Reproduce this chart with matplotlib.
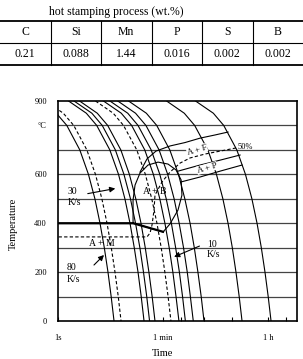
import matplotlib
matplotlib.use("Agg")
import matplotlib.pyplot as plt
from matplotlib.lines import Line2D

plt.rcParams['font.family'] = ['Liberation Serif', 'DejaVu Serif']

# ---------------- table data ----------------
table_title = "hot stamping process (wt.%)"
elements = ["C", "Si", "Mn", "P", "S", "B"]
contents = ["0.21", "0.088", "1.44", "0.016", "0.002", "0.002"]

# ---------------- CCT diagram data ----------------
# temperatures (°C) at which the cooling curves were read
cool_temps = [900, 850, 800, 700, 600, 500, 400, 300, 200, 100, 0]
# times (s) of each cooling curve at those temperatures
t_80ks = [0.468, 0.937, 1.41, 2.34, 3.28, 4.22, 5.15, 6.09, 7.03, 7.96, 8.9]
t_crit = [0.616, 1.23, 1.85, 3.08, 4.31, 5.54, 6.77, 8.0, 9.24, 10.5, 11.7]
t_30ks = [1.51, 3.02, 4.53, 7.55, 10.6, 13.6, 16.6, 19.6, 22.7, 25.7, 28.7]
t_c3 = [1.87, 3.75, 5.62, 9.37, 13.1, 16.9, 20.6, 24.4, 28.1, 31.9, 35.6]
t_c4 = [2.32, 4.63, 6.95, 11.6, 16.2, 20.8, 25.5, 30.1, 34.7, 39.4, 44.0]
t_dash2 = [4.32, 8.63, 12.9, 21.6, 30.2, 38.8, 47.5, 56.1, 64.7, 73.4, 82.0]
t_10ks = [5.89, 11.8, 17.7, 29.5, 41.3, 53.1, 64.8, 76.6, 88.4, 100, 112]
t_c6 = [7.58, 15.2, 22.7, 37.9, 53.1, 68.2, 83.4, 98.5, 114, 129, 144]
t_c7 = [10.3, 20.6, 30.9, 51.6, 72.2, 92.8, 113, 134, 155, 175, 196]
t_c8 = [15.7, 31.4, 47.1, 78.4, 110, 141, 173, 204, 235, 267, 298]
t_c9 = [69.2, 138, 207, 346, 484, 622, 761, 899, 1037, 1176, 1314]
t_c10 = [214, 429, 643, 1072, 1501, 1930, 2359, 2788, 3217, 3646, 4075]

# Ms line
ms_time = [1, 18.7, 60.2]
ms_temp = [400, 400, 365]
# bainite region outline
bain_time = [18.7, 18.7, 20.2, 24.5, 33.5, 49.5, 73.2, 100, 122, 126, 108, 79, 60.2, 18.7]
bain_temp = [401, 495, 556, 605, 638, 650, 642, 618, 577, 515, 454, 397, 364, 401]
# ferrite start
fer_time = [24.5, 32.2, 45.7, 79, 142, 255, 458, 761]
fer_temp = [609, 663, 695, 716, 730, 748, 761, 773]
# 50 % transformation line
half_time = [1040, 677, 310, 173, 117, 79, 57.9, 44, 42.4, 39.2, 36.3, 32.2, 1]
half_temp = [708, 699, 683, 667, 646, 609, 569, 515, 454, 393, 360, 344, 344]
# pearlite lines
pea1_time = [108, 255, 557, 1216]
pea1_temp = [613, 638, 658, 679]
pea2_time = [122, 255, 557, 1314]
pea2_temp = [569, 589, 613, 638]

time_ticks = [1, 60, 3600]
time_labels = ["1s", "1 min", "1 h"]
time_minor = [120, 300, 900, 7200]
temp_ticks = [0, 200, 400, 600, 800, 900]
temp_labels = ["0", "200", "400", "600", "\u00b0C", "900"]

W, H = 303, 359
fig = plt.figure(figsize=(W / 100, H / 100), dpi=100)


def px(x, y):
    return x / W, 1 - y / H


# ---------------- table ----------------
fig.text(*px(116, 12), table_title, ha='center', va='center', fontsize=8.5)
for y, lw in [(21, 1.3), (43, 0.8), (65, 1.3)]:
    fig.add_artist(Line2D([0, 1], [px(0, y)[1]] * 2, color='black', lw=lw))
col_w = W / len(elements)
for i in range(1, len(elements)):
    xf = px(col_w * i, 0)[0]
    fig.add_artist(Line2D([xf, xf], [px(0, 21)[1], px(0, 65)[1]],
                          color='black', lw=0.8))
for i, (el, val) in enumerate(zip(elements, contents)):
    cx = col_w * (i + 0.5)
    fig.text(*px(cx, 32), el, ha='center', va='center', fontsize=8.5)
    fig.text(*px(cx, 54), val, ha='center', va='center', fontsize=8.5)

# ---------------- diagram ----------------
ax = fig.add_axes([58 / W, 38 / H, 239 / W, 220 / H])
ax.set_xscale('log')
ax.set_xlim(1, 11220)
ax.set_ylim(0, 900)

for T in range(100, 900, 100):
    ax.axhline(T, color='#444444', lw=0.9, zorder=1)

solid = [t_80ks, t_30ks, t_c3, t_c4, t_10ks, t_c6, t_c7, t_c8, t_c9, t_c10]
dashed = [t_crit, t_dash2]
for ts in solid:
    ax.plot(ts, cool_temps, color='black', lw=0.8, zorder=3)
for ts in dashed:
    ax.plot(ts, cool_temps, color='black', lw=0.8, ls=(0, (3, 2)), zorder=3)

ax.plot(ms_time, ms_temp, color='black', lw=1.6, zorder=3)
ax.plot(bain_time, bain_temp, color='black', lw=0.8, zorder=3)
ax.plot(fer_time, fer_temp, color='black', lw=0.8, zorder=3)
ax.plot(half_time, half_temp, color='black', lw=0.8, ls=(0, (3, 2)), zorder=3)
ax.plot(pea1_time, pea1_temp, color='black', lw=0.8, zorder=3)
ax.plot(pea2_time, pea2_temp, color='black', lw=0.8, zorder=3)

fs = 7
box = dict(facecolor='white', edgecolor='none', pad=0.2)
ax.text(44, 528, "A + B", fontsize=fs, ha='center', va='center', zorder=5)
ax.text(227, 700, "A + F", fontsize=6.5, ha='center', va='center',
        rotation=16, bbox=box, zorder=5)
ax.text(335, 626, "A + P", fontsize=6.5, ha='center', va='center',
        rotation=16, bbox=box, zorder=5)
ax.text(5.5, 316, "A + M", fontsize=fs, ha='center', va='center', zorder=5)
ax.text(1500, 712, "50%", fontsize=6, ha='center', va='center', zorder=5)

ax.text(1.45, 528, "30", fontsize=fs, ha='left', va='center')
ax.text(1.45, 483, "K/s", fontsize=fs, ha='left', va='center')
ax.text(1.42, 217, "80", fontsize=fs, ha='left', va='center')
ax.text(1.42, 168, "K/s", fontsize=fs, ha='left', va='center')
ax.text(335, 311, "10", fontsize=fs, ha='left', va='center')
ax.text(335, 274, "K/s", fontsize=fs, ha='left', va='center')

arrow = dict(arrowstyle='-|>', color='black', lw=0.8, mutation_scale=8)
ax.annotate("", xy=(10.4, 544), xytext=(2.87, 519), arrowprops=arrow)
ax.annotate("", xy=(6.5, 278), xytext=(3.77, 221), arrowprops=arrow)
ax.annotate("", xy=(83.9, 258), xytext=(276, 311), arrowprops=arrow)

ax.set_xticks(time_ticks)
ax.set_xticklabels(time_labels)
ax.set_xticks(time_minor, minor=True)
ax.set_xticklabels([], minor=True)
ax.tick_params(axis='x', which='both', direction='in', length=3, width=0.8,
               labelsize=6, pad=9)
ax.set_yticks(temp_ticks)
ax.set_yticklabels(temp_labels)
ax.tick_params(axis='y', length=0, labelsize=6, pad=8)
for s in ax.spines.values():
    s.set_linewidth(1.2)

fig.text(*px(13, 224), "Temperature", rotation=90, ha='center', va='center',
         fontsize=7.5)
fig.text(*px(163, 349), "Time", ha='center', va='top', fontsize=7.5)

fig.savefig("out.png", dpi=100)
